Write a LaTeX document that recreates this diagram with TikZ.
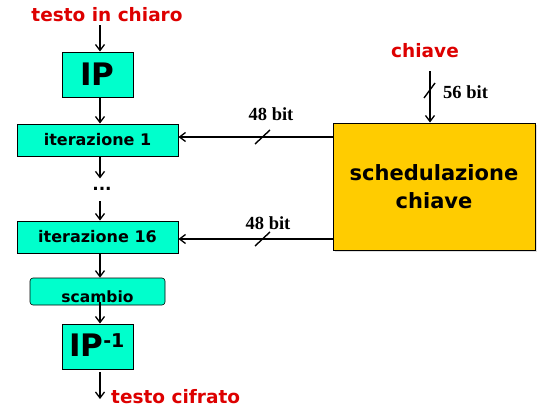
\documentclass[tikz,border=0pt]{standalone}
\usepackage{fontspec}
\setmainfont{DejaVu Sans}
\newfontfamily\serifb{Liberation Serif}
\usetikzlibrary{arrows.meta,shadows}
\definecolor{boxcyan}{HTML}{00FFCC}
\definecolor{boxgold}{HTML}{FFCC00}
\definecolor{txtred}{HTML}{DD0000}
\tikzset{
  blk/.style={draw=black, fill=boxcyan, line width=0.9pt, inner sep=0pt},
  arr/.style={-{Straight Barb[length=6pt,width=9pt]}, line width=1.3pt},
  redlbl/.style={text=txtred, font=\fontsize{18.5}{18.5}\selectfont\bfseries, inner sep=0pt},
  bitlbl/.style={font=\serifb\fontsize{18.5}{18.5}\selectfont\bfseries, inner sep=0pt},
  slash/.style={line width=1.4pt}
}
\begin{document}
\begin{tikzpicture}[x=1pt,y=-1pt]
\useasboundingbox (0,0) rectangle (550,415);
% labels
\node[redlbl] (in) at (107,15) {testo in chiaro};
\node[redlbl, anchor=west] (out) at (111,397) {testo cifrato};
\node[redlbl] (key) at (425,51) {chiave};
% boxes
\node[blk, minimum width=71pt, minimum height=45pt, font=\fontsize{31}{31}\selectfont\bfseries] (ip) at (97.5,74.5) {IP};
\node[blk, minimum width=161pt, minimum height=32pt, font=\fontsize{16}{16}\selectfont\bfseries] (it1) at (97.5,140) {iterazione 1};
\node[font=\fontsize{17}{17}\selectfont\bfseries, inner sep=0pt] (dots) at (102,189) {...};
\node[blk, minimum width=161pt, minimum height=32pt, font=\fontsize{16}{16}\selectfont\bfseries] (it16) at (97.5,237) {iterazione 16};
\node[blk, rounded corners=3pt, line width=0.6pt, minimum width=135pt, minimum height=27pt] (sc) at (97.5,291.5) {};
\node[font=\fontsize{15.5}{15.5}\selectfont\bfseries, inner sep=0pt] (sct) at (97.5,297) {scambio};
\node[blk, minimum width=71pt, minimum height=45pt] (ipi) at (97.5,346.5) {};
\node[font=\fontsize{31}{31}\selectfont\bfseries, inner sep=0pt] (ipit) at (97,345) {IP\textsuperscript{\fontsize{19}{19}\selectfont -1}};
\node[draw=black, fill=boxgold, line width=0.9pt, minimum width=202pt, minimum height=127pt, align=center, font=\fontsize{21}{28}\selectfont\bfseries, drop shadow={opacity=0.25, shadow xshift=2pt, shadow yshift=-2pt}] (ks) at (434,186.5) {schedulazione\\chiave};
% connectors
\coordinate (a0) at (100,25);
\draw[arr] (a0) -- (ip.north -| a0);
\draw[arr] (ip.south -| a0) -- (it1.north -| a0);
\draw[arr] (it1.south -| a0) -- ++(0,22);
\draw[arr] (100,201) -- (it16.north -| a0);
\draw[arr] (it16.south -| a0) -- (sc.north -| a0);
\draw[arr] (100,302) -- (ipi.north -| a0);
\coordinate (o1) at (100,372);
\draw[arr] (o1) -- ++(0,27);
\coordinate (k0) at (430,71);
\draw[arr] (k0) -- (ks.north -| k0);
\draw[slash] (424,98) -- (435,83);
\node[bitlbl, anchor=west] (b56) at (443,92) {56 bit};
\coordinate (r1) at (333,137);
\draw[arr] (r1) -- (it1.east |- r1);
\draw[slash] (255,144) -- (270,130);
\node[bitlbl] (b1) at (271,114) {48 bit};
\coordinate (r2) at (333,239);
\draw[arr] (r2) -- (it16.east |- r2);
\draw[slash] (255,246) -- (270,232);
\node[bitlbl] (b2) at (268,223) {48 bit};
\end{tikzpicture}
\end{document}
